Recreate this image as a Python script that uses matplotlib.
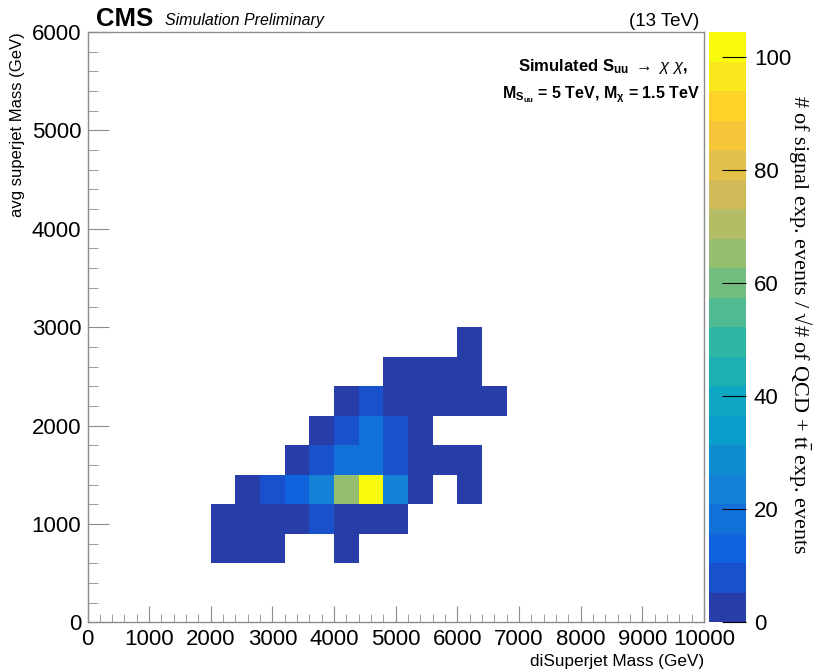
import numpy as np
import matplotlib
matplotlib.use("Agg")
import matplotlib.pyplot as plt
from matplotlib.colors import ListedColormap, BoundaryNorm
import matplotlib.ticker as mticker

plt.rcParams["font.family"] = ["Liberation Sans", "DejaVu Sans"]
plt.rcParams["mathtext.fontset"] = "custom"
plt.rcParams["mathtext.rm"] = "Liberation Sans"
plt.rcParams["mathtext.it"] = "Liberation Sans:italic"
plt.rcParams["mathtext.bf"] = "Liberation Sans:bold"

W, H = 813, 670
FRAME = "#8c8c8c"

# bin centres (GeV) and content of each non-empty cell
cell_x = [2200, 2600, 3000, 4200,
          2200, 2600, 3000, 3400, 3800, 4200, 4600, 5000,
          2600, 3000, 3400, 3800, 4200, 4600, 5000, 5400, 6200,
          3400, 3800, 4200, 4600, 5000, 5400, 5800, 6200,
          3800, 4200, 4600, 5000, 5400,
          4200, 4600, 5000, 5400, 5800, 6200, 6600,
          5000, 5400, 5800, 6200,
          6200]
cell_y = [750, 750, 750, 750,
          1050, 1050, 1050, 1050, 1050, 1050, 1050, 1050,
          1350, 1350, 1350, 1350, 1350, 1350, 1350, 1350, 1350,
          1650, 1650, 1650, 1650, 1650, 1650, 1650, 1650,
          1950, 1950, 1950, 1950, 1950,
          2250, 2250, 2250, 2250, 2250, 2250, 2250,
          2550, 2550, 2550, 2550,
          2850]
cell_val = [1.1, 1.8, 1.4, 0.9,
            2.2, 3.5, 4.1, 4.6, 7.9, 4.3, 3.8, 2.0,
            3.9, 8.6, 13.1, 23.2, 65.0, 104.4, 22.8, 4.4, 1.2,
            4.2, 9.1, 18.4, 18.0, 8.4, 3.6, 2.1, 1.5,
            4.5, 9.5, 17.8, 8.8, 3.0,
            3.7, 8.1, 4.8, 3.3, 2.4, 1.9, 1.0,
            2.6, 2.9, 1.7, 1.3,
            0.8]

x_edges = np.arange(0, 10001, 400)
y_edges = np.arange(0, 6001, 300)
zmax = max(cell_val)
ncont = 20

# ROOT kBird palette, sampled the way THistPainter picks contour colours
stops = [0.0, 0.125, 0.25, 0.375, 0.5, 0.625, 0.75, 0.875, 1.0]
red = [0.2082, 0.0592, 0.0780, 0.0232, 0.1802, 0.5301, 0.8186, 0.9956, 0.9764]
green = [0.1664, 0.3599, 0.5041, 0.6419, 0.7178, 0.7492, 0.7328, 0.7862, 0.9832]
blue = [0.5293, 0.8684, 0.8385, 0.7914, 0.6425, 0.4662, 0.3499, 0.1968, 0.0539]
pos = [int((i + 0.99) * 255 / ncont) / 254 for i in range(ncont)]
cols = [(np.interp(p, stops, red), np.interp(p, stops, green), np.interp(p, stops, blue)) for p in pos]
cmap = ListedColormap(cols)
norm = BoundaryNorm(np.linspace(0, zmax, ncont + 1), ncolors=ncont)

fig = plt.figure(figsize=(W / 100, H / 100), dpi=100)
ax = fig.add_axes([87.5 / W, 1 - 622.3 / H, (704 - 87.5) / W, (622.3 - 32) / H])
cax = fig.add_axes([708.5 / W, 1 - 622 / H, 37 / W, 590 / H])

h = ax.hist2d(cell_x, cell_y, bins=[x_edges, y_edges], weights=cell_val,
              cmap=cmap, norm=norm, cmin=1e-6)

ax.set_xlim(0, 10000)
ax.set_ylim(0, 6000)
ax.xaxis.set_major_locator(mticker.MultipleLocator(1000))
ax.xaxis.set_minor_locator(mticker.MultipleLocator(200))
ax.yaxis.set_major_locator(mticker.MultipleLocator(1000))
ax.yaxis.set_minor_locator(mticker.MultipleLocator(200))
ax.tick_params(axis="both", which="both", direction="in", color=FRAME, labelsize=16)
ax.tick_params(axis="x", which="major", length=11.3, pad=5)
ax.tick_params(axis="x", which="minor", length=6)
ax.tick_params(axis="y", which="major", length=14.9, pad=4.5)
ax.tick_params(axis="y", which="minor", length=7.2)
for s in ax.spines.values():
    s.set_color(FRAME)
    s.set_linewidth(1.0)

ax.set_xlabel("diSuperjet Mass (GeV)", fontsize=12.3, loc="right", labelpad=3)
ax.set_ylabel("avg superjet Mass (GeV)", fontsize=12, loc="top", labelpad=5)

cb = fig.colorbar(h[3], cax=cax, ticks=[0, 20, 40, 60, 80, 100])
cb.outline.set_visible(False)
cax.tick_params(direction="in", length=17, width=0.8, color="black", labelsize=16, pad=6)
cax.tick_params(which="minor", length=0)
cax.set_ylim(0, zmax)

fig.text(800 / W, 1 - 325 / H,
         r"# of signal exp. events / √# of QCD + $\mathrm{t\bar{t}}$ exp. events",
         rotation=270, ha="center", va="center", fontsize=16,
         family=["Liberation Serif", "DejaVu Serif"], math_fontfamily="stix")

fig.text(96 / W, 1 - 25.5 / H, "CMS", fontsize=18.5, fontweight="bold", va="baseline")
fig.text(164.6 / W, 1 - 25.5 / H, "Simulation Preliminary", fontsize=11.5,
         style="italic", va="baseline")
fig.text(699 / W, 1 - 25.5 / H, "(13 TeV)", fontsize=13.5, ha="right", va="baseline")

fig.text(603 / W, 1 - 67 / H, r"Simulated $\mathbf{S_{uu}}$ $\rightarrow$ $\chi$ $\chi$,",
         fontsize=12, fontweight="bold", ha="center", va="center")
fig.text(601 / W, 1 - 95 / H, r"$\mathbf{M_{S_{uu}}}$ = 5 TeV, $\mathbf{M_{\chi}}$ = 1.5 TeV",
         fontsize=11.5, fontweight="bold", ha="center", va="center")

fig.savefig("out.png", dpi=100, facecolor="white")
